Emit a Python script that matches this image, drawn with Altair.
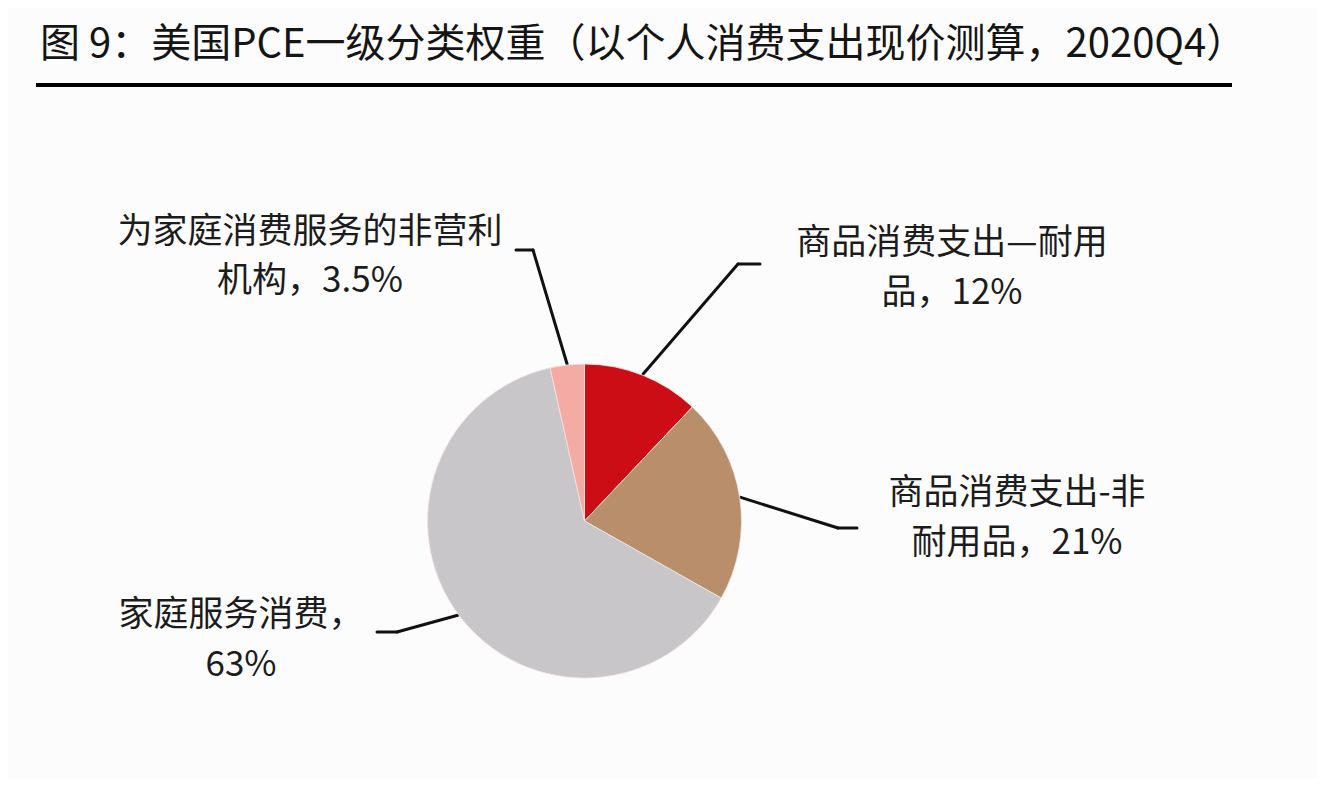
import math
import altair as alt
import pandas as pd

# ---------------- data ----------------
TITLE = "图 9：美国PCE一级分类权重（以个人消费支出现价测算，2020Q4）"
CATEGORIES = ["商品消费支出—耐用品", "商品消费支出-非耐用品", "家庭服务消费", "为家庭消费服务的非营利机构"]
VALUES = [12, 21, 63, 3.5]
COLORS = ["#cd0d15", "#b98f6b", "#c8c6c9", "#f3aba3"]
LABEL_LINE1 = ["商品消费支出—耐用", "商品消费支出-非", "家庭服务消费，", "为家庭消费服务的非营利"]
LABEL_LINE2 = ["品，12%", "耐用品，21%", "63%", "机构，3.5%"]

# ---------------- layout (chart pixel frame) ----------------
W, H = 1310, 770
CX, CY, R = 576.5, 513.0, 157
LABEL_X = [944, 1009, 233, 302]
LABEL_Y1 = [235, 485, 607, 224]
LABEL_Y2 = [285, 535, 657, 273]
ELBOW_X = [730, 830, 389, 525]
ELBOW_Y = [256, 520, 624, 242]
END_X = [752, 849, 369, 508]
TITLE_X, TITLE_Y = 32, 37
RULE_X1, RULE_X2, RULE_Y = 28, 1224, 77
FONT = "Noto Sans CJK SC"

# ---------------- tables ----------------
pie_df = pd.DataFrame({"cat": CATEGORIES, "value": VALUES, "order": list(range(len(VALUES)))})

total = sum(VALUES)
cum = 0.0
seg_rows = []
for i, v in enumerate(VALUES):
    mid = (cum + v / 2) / total * 2 * math.pi
    cum += v
    ex = CX + (R + 1) * math.sin(mid)
    ey = CY - (R + 1) * math.cos(mid)
    seg_rows.append({"x": ex, "y": ey, "x2": ELBOW_X[i], "y2": ELBOW_Y[i]})
    seg_rows.append({"x": ELBOW_X[i], "y": ELBOW_Y[i], "x2": END_X[i], "y2": ELBOW_Y[i]})
seg_df = pd.DataFrame(seg_rows)

lab_rows = []
for i in range(len(VALUES)):
    lab_rows.append({"x": LABEL_X[i], "y": LABEL_Y1[i], "t": LABEL_LINE1[i]})
    lab_rows.append({"x": LABEL_X[i], "y": LABEL_Y2[i], "t": LABEL_LINE2[i]})
lab_df = pd.DataFrame(lab_rows)

title_df = pd.DataFrame({"x": [TITLE_X], "y": [TITLE_Y], "t": [TITLE]})
rule_df = pd.DataFrame({"x": [RULE_X1], "x2": [RULE_X2], "y": [RULE_Y]})

xs = alt.Scale(domain=[0, W], nice=False, zero=False)
ys = alt.Scale(domain=[0, H], nice=False, zero=False, reverse=True)

pie = alt.Chart(pie_df).mark_arc(radius=R, stroke="#f4e6e2", strokeWidth=0.8).encode(
    theta=alt.Theta("value:Q", stack=True),
    order=alt.Order("order:Q", sort="ascending"),
    color=alt.Color("cat:N", scale=alt.Scale(domain=CATEGORIES, range=COLORS), legend=None),
    x=alt.value(CX),
    y=alt.value(CY),
)

leaders = alt.Chart(seg_df).mark_rule(color="#111111", strokeWidth=3, strokeCap="round").encode(
    x=alt.X("x:Q", scale=xs, axis=None),
    y=alt.Y("y:Q", scale=ys, axis=None),
    x2="x2:Q",
    y2="y2:Q",
)

labels = alt.Chart(lab_df).mark_text(
    font=FONT, fontSize=35, color="#1c1c1c", align="center", baseline="middle"
).encode(
    x=alt.X("x:Q", scale=xs, axis=None),
    y=alt.Y("y:Q", scale=ys, axis=None),
    text="t:N",
)

title = alt.Chart(title_df).mark_text(
    font=FONT, fontSize=40, color="#151515", align="left", baseline="middle"
).encode(
    x=alt.X("x:Q", scale=xs, axis=None),
    y=alt.Y("y:Q", scale=ys, axis=None),
    text="t:N",
)

underline = alt.Chart(rule_df).mark_rule(color="#000000", strokeWidth=4).encode(
    x=alt.X("x:Q", scale=xs, axis=None),
    x2="x2:Q",
    y=alt.Y("y:Q", scale=ys, axis=None),
)

chart = alt.layer(title, underline, leaders, pie, labels).properties(
    width=W,
    height=H,
    autosize=alt.AutoSizeParams(type="none"),
    padding=0,
    background="#fcfcfd",
).configure_view(stroke=None)

chart.save("out.html", embed_options={"renderer": "svg", "actions": False})
